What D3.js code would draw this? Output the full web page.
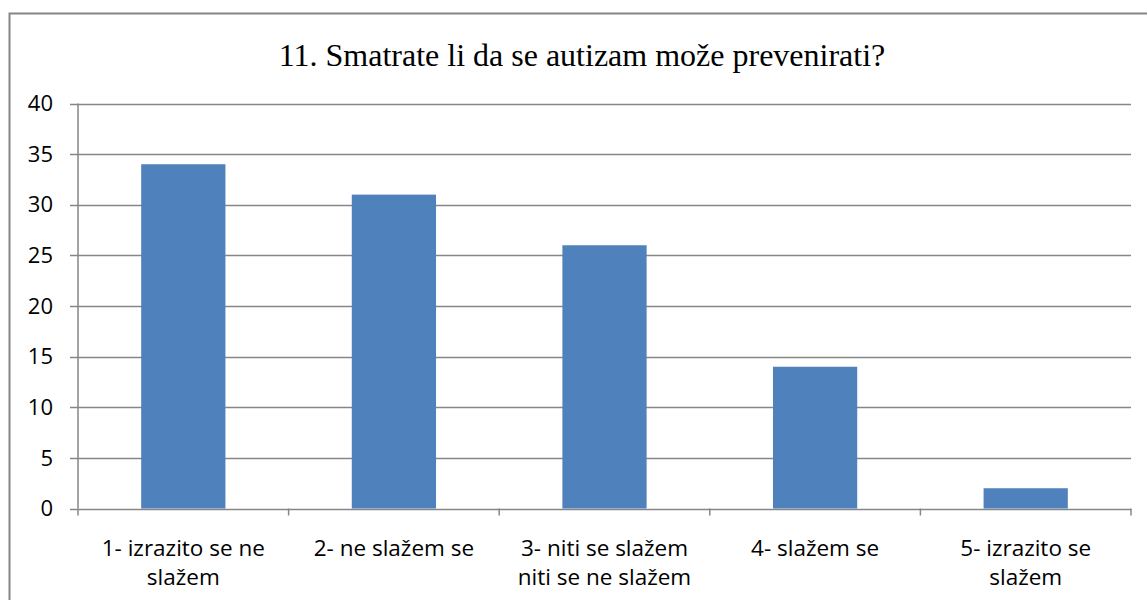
<!DOCTYPE html>
<html>
<head>
<meta charset="utf-8">
<script src="https://cdn.jsdelivr.net/npm/d3@7"></script>
<style>
  body { margin: 0; background: #fff; }
  svg { display: block; }
</style>
</head>
<body>
<svg width="1147" height="600"></svg>
<script>
var categories = [
    ["1- izrazito se ne", "slažem"],
    ["2- ne slažem se"],
    ["3- niti se slažem", "niti se ne slažem"],
    ["4- slažem se"],
    ["5- izrazito se", "slažem"]
];
var values = [34, 31, 26, 14, 2];
var yTicks = [0, 5, 10, 15, 20, 25, 30, 35, 40];
var title = "11. Smatrate li da se autizam može prevenirati?";

var svg = d3.select("svg"),
    width = +svg.attr("width"),
    height = +svg.attr("height");

var plotLeft = 78, plotRight = 1131, plotTop = 103.5, plotBottom = 508.5;

// outer chart border
svg.append("rect")
    .attr("x", 9.5).attr("y", 13.5)
    .attr("width", 1160).attr("height", 620)
    .attr("fill", "none")
    .attr("stroke", "#868686")
    .attr("stroke-width", 2);

svg.append("text")
    .attr("x", 582).attr("y", 66)
    .attr("text-anchor", "middle")
    .attr("font-family", "'Liberation Serif', 'Times New Roman', serif")
    .attr("font-size", 32)
    .attr("fill", "#000")
    .text(title);

var x = d3.scaleBand()
    .domain(d3.range(categories.length))
    .range([plotLeft, plotRight])
    .padding(0);

var y = d3.scaleLinear()
    .domain([0, 40])
    .range([plotBottom, plotTop]);

// gridlines
svg.append("g")
    .selectAll("line")
    .data(yTicks)
    .enter().append("line")
    .attr("x1", plotLeft - 8)
    .attr("x2", plotRight)
    .attr("y1", function(d) { return Math.round(y(d)) + 0.5; })
    .attr("y2", function(d) { return Math.round(y(d)) + 0.5; })
    .attr("stroke", "#868686")
    .attr("stroke-width", 1.5);

// y axis line
svg.append("line")
    .attr("x1", plotLeft).attr("x2", plotLeft)
    .attr("y1", plotTop).attr("y2", plotBottom)
    .attr("stroke", "#868686")
    .attr("stroke-width", 1.5);

// x ticks
svg.append("g")
    .selectAll("line")
    .data(d3.range(categories.length + 1))
    .enter().append("line")
    .attr("x1", function(d) { return plotLeft + d * x.step(); })
    .attr("x2", function(d) { return plotLeft + d * x.step(); })
    .attr("y1", plotBottom).attr("y2", plotBottom + 7)
    .attr("stroke", "#868686")
    .attr("stroke-width", 1.5);

// bars
svg.append("g")
    .selectAll("rect")
    .data(values)
    .enter().append("rect")
    .attr("x", function(d, i) { return x(i) + x.step() * 0.3; })
    .attr("width", x.step() * 0.4)
    .attr("y", function(d) { return y(d); })
    .attr("height", function(d) { return y(0) - y(d); })
    .attr("fill", "#4F81BD");

var labelFont = "'Open Sans', 'Liberation Sans', sans-serif";

// y tick labels
svg.append("g")
    .selectAll("text")
    .data(yTicks)
    .enter().append("text")
    .attr("x", 53)
    .attr("y", function(d) { return y(d); })
    .attr("dy", "0.35em")
    .attr("text-anchor", "end")
    .attr("font-family", labelFont)
    .attr("font-size", 22)
    .attr("fill", "#000")
    .text(function(d) { return d; });

// category labels
var lab = svg.append("g")
    .selectAll("text")
    .data(categories)
    .enter().append("text")
    .attr("text-anchor", "middle")
    .attr("font-family", labelFont)
    .attr("font-size", 22.5)
    .attr("fill", "#000");

lab.selectAll("tspan")
    .data(function(d, i) { return d.map(function(t) { return { t: t, i: i }; }); })
    .enter().append("tspan")
    .attr("x", function(d) { return x(d.i) + x.step() / 2; })
    .attr("y", function(d, j) { return 556 + j * 29; })
    .text(function(d) { return d.t; });
</script>
</body>
</html>
